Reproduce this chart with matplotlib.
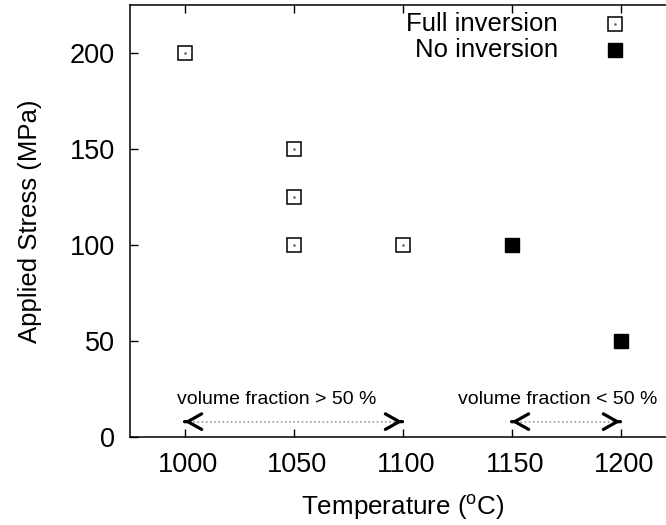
import matplotlib
matplotlib.use('Agg')
import matplotlib.pyplot as plt
import matplotlib.transforms as mtransforms

plt.rcParams['font.family'] = ['Liberation Sans', 'DejaVu Sans']
plt.rcParams['mathtext.fontset'] = 'custom'
plt.rcParams['mathtext.rm'] = 'Liberation Sans'

# data
full_T = [1000, 1050, 1050, 1050, 1100]
full_S = [200, 150, 125, 100, 100]
none_T = [1150, 1200]
none_S = [100, 50]

# annotation arrows: (x start, x end, y), label, label position
arrow_left = (1000, 1100, 8)
arrow_right = (1150, 1200, 8)
label_left = ('volume fraction > 50 %', 1042.5, 19.3)
label_right = ('volume fraction < 50 %', 1171, 19.3)

fig = plt.figure(figsize=(6.66, 5.25), dpi=100)
# axes run a bit past the right edge of the picture, like the original crop
ax = fig.add_axes([130/666, 88/525, 545/666, 432/525])

ax.plot(full_T, full_S, 's', ms=9.5, mfc='white', mec='black', mew=1.1, ls='none')
ax.plot(full_T, full_S, '.', ms=1.5, color='#555555', ls='none')
ax.plot(none_T, none_S, 's', ms=9.5, mfc='black', mec='black', ls='none')

def draw_arrow(a):
    x0, x1, y = a
    ax.plot([x0, x1], [y, y], ls=(0, (1, 1.5)), color='#999999', lw=1.2)
    for tip, back in [(x0, x0 + 0.3), (x1, x1 - 0.3)]:
        ax.annotate('', xy=(tip, y), xytext=(back, y),
                    arrowprops=dict(arrowstyle='->, head_length=0.5, head_width=0.28',
                                    color='black', lw=2.3, shrinkA=0, shrinkB=0,
                                    mutation_scale=20))

draw_arrow(arrow_left)
draw_arrow(arrow_right)
for txt, x, y in [label_left, label_right]:
    ax.text(x, y, txt, ha='center', va='center', fontsize=14)

# legend drawn by hand (gnuplot style: text then key)
ax.text(0.785, 0.956, 'Full inversion', transform=ax.transAxes, ha='right', va='center', fontsize=18.5)
ax.text(0.785, 0.896, 'No inversion', transform=ax.transAxes, ha='right', va='center', fontsize=18.5)
ax.plot([0.890], [0.956], 's', ms=9.5, mfc='white', mec='black', mew=1.1, transform=ax.transAxes, clip_on=False)
ax.plot([0.890], [0.956], '.', ms=1.5, color='#555555', transform=ax.transAxes, clip_on=False)
ax.plot([0.890], [0.896], 's', ms=9.5, mfc='black', mec='black', transform=ax.transAxes, clip_on=False)

ax.set_xlim(975, 1225)
ax.set_ylim(0, 225)
ax.set_xticks([1000, 1050, 1100, 1150, 1200])
ax.set_yticks([0, 50, 100, 150, 200])
ax.tick_params(direction='in', length=6, width=1, labelsize=19.5, top=True, right=True)
ax.tick_params(axis='x', pad=11)
ax.tick_params(axis='y', pad=11)
for s in ax.spines.values():
    s.set_linewidth(1.1)

# gnuplot puts the x tick labels a touch right of the tick
shift = mtransforms.ScaledTranslation(3.5/100, 0, fig.dpi_scale_trans)
for lab in ax.get_xticklabels():
    lab.set_transform(lab.get_transform() + shift)

ax.set_xlabel('Temperature ($^{\\mathrm{o}}$C)', fontsize=18.7, labelpad=10)
ax.set_ylabel('Applied Stress (MPa)', fontsize=18.5, labelpad=20)

fig.savefig('out.png', dpi=100)
